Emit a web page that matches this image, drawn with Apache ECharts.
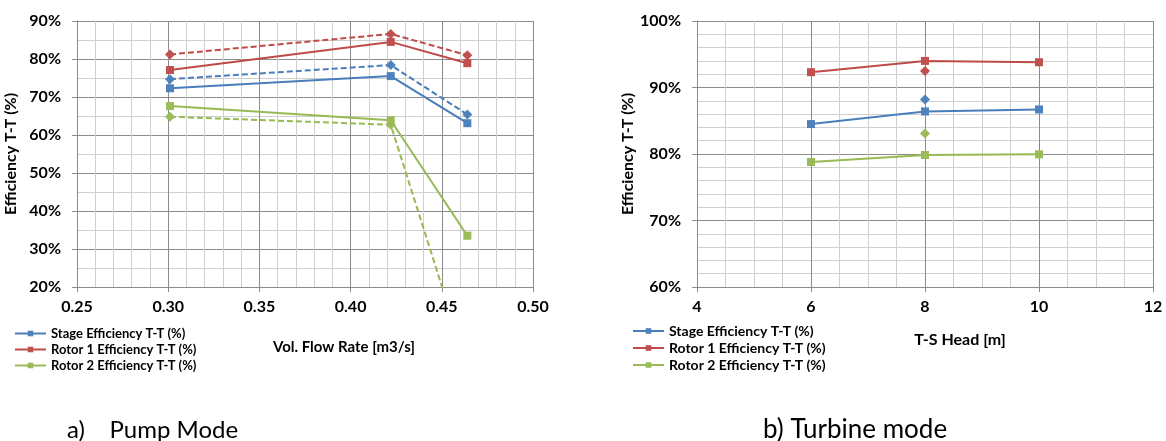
<!DOCTYPE html>
<html>
<head>
<meta charset="utf-8">
<script src="https://cdn.jsdelivr.net/npm/echarts@6/dist/echarts.min.js"></script>
<style>
html,body{margin:0;padding:0;background:#fff;}
#c{width:1166px;height:441px;}
</style>
</head>
<body>
<div id="c"></div>
<script>
// ---- Data (a) Pump mode ----
const pumpFlow = [0.301, 0.422, 0.464];
const pumpStage = [72.3, 75.5, 63.1];
const pumpStageDash = [74.7, 78.4, 65.4];
const pumpRotor1 = [77.1, 84.5, 78.9];
const pumpRotor1Dash = [81.2, 86.6, 81.0];
const pumpRotor2 = [67.6, 63.9, 33.5];
const pumpRotor2Dash = [64.8, 62.7, -1.0];

// ---- Data (b) Turbine mode ----
const turbHead = [6, 8, 10];
const turbStage = [84.5, 86.4, 86.7];
const turbRotor1 = [92.3, 94.0, 93.8];
const turbRotor2 = [78.8, 79.85, 79.95];
const turbExtraHead = [8];
const turbStageExtra = [88.2];
const turbRotor1Extra = [92.5];
const turbRotor2Extra = [83.1];

const seriesNames = ['Stage Efficiency T-T (%)', 'Rotor 1 Efficiency T-T (%)', 'Rotor 2 Efficiency T-T (%)'];
const yTitle = 'Efficiency T-T (%)';
const xTitlePump = 'Vol. Flow Rate [m3/s]';
const xTitleTurb = 'T-S Head [m]';
const captionPump = 'a)    Pump Mode';
const captionTurb = 'b) Turbine mode';

const lineColors = ['#4A7EBB', '#BE4B48', '#98B954'];
const markColors = ['#4F81BD', '#C0504D', '#9BBB59'];
const FONT = 'Lato, "Open Sans", sans-serif';

const zip = (xs, ys) => xs.map((x, i) => [x, ys[i]]);

function solid(name, idx, gi, xs, ys) {
  return {
    name: name, type: 'line', xAxisIndex: gi, yAxisIndex: gi,
    data: zip(xs, ys), symbol: 'rect', symbolSize: 8,
    itemStyle: {color: markColors[idx]},
    lineStyle: {color: lineColors[idx], width: 2},
    z: 3, animation: false, clip: true
  };
}
function dashed(name, idx, gi, xs, ys, showLine) {
  return {
    name: name, type: 'line', xAxisIndex: gi, yAxisIndex: gi,
    data: zip(xs, ys), symbol: 'diamond', symbolSize: 10,
    itemStyle: {color: markColors[idx]},
    lineStyle: {color: lineColors[idx], width: 2, type: [6, 3], opacity: showLine ? 1 : 0},
    z: 3, animation: false, clip: true
  };
}

const axisLbl = {color: '#000', fontFamily: FONT, fontWeight: 'bold', fontSize: 16};
const majorSplit = {show: true, lineStyle: {color: '#8c8c8c', width: 1}};
const minorSplit = {show: true, lineStyle: {color: '#cfcfcf', width: 1}};
const axLine = {show: true, onZero: false, lineStyle: {color: '#8c8c8c', width: 1}};
const axTick = {show: true, length: 5, lineStyle: {color: '#8c8c8c'}};

function xAxis(gi, min, max, interval, minorN, fmt) {
  return {
    type: 'value', gridIndex: gi, min: min, max: max, interval: interval,
    axisLine: axLine, axisTick: axTick,
    axisLabel: Object.assign({margin: 12, formatter: fmt}, axisLbl),
    splitLine: majorSplit, minorTick: {show: false, splitNumber: minorN},
    minorSplitLine: minorSplit
  };
}
function yAxis(gi, min, max, minorN) {
  return {
    type: 'value', gridIndex: gi, min: min, max: max, interval: 10,
    axisLine: axLine, axisTick: axTick,
    axisLabel: Object.assign({margin: 16, formatter: '{value}%'}, axisLbl),
    splitLine: majorSplit, minorTick: {show: false, splitNumber: minorN},
    minorSplitLine: minorSplit,
    name: yTitle, nameLocation: 'middle', nameGap: 58,
    nameTextStyle: {color: '#000', fontFamily: FONT, fontWeight: 'bold', fontSize: 16}
  };
}

function legend(left, top, fs, gap) {
  return {
    orient: 'vertical', left: left, top: top, data: seriesNames,
    itemWidth: 31, itemHeight: 7, itemGap: gap, padding: 0,
    textStyle: {color: '#000', fontFamily: FONT, fontWeight: 'bold', fontSize: fs},
    selectedMode: false
  };
}

const chart = echarts.init(document.getElementById('c'), null, {renderer: 'canvas'});
chart.setOption({
  backgroundColor: '#fff',
  animation: false,
  grid: [
    {left: 77, top: 21, width: 456, height: 266},
    {left: 697, top: 21, width: 456, height: 266}
  ],
  xAxis: [
    xAxis(0, 0.25, 0.5, 0.05, 5, v => v.toFixed(2)),
    xAxis(1, 4, 12, 2, 4, '{value}')
  ],
  yAxis: [yAxis(0, 20, 90, 2), yAxis(1, 60, 100, 5)],
  legend: [legend(14, 327, 13, 3), legend(632, 324, 14, 3)],
  series: [
    solid(seriesNames[0], 0, 0, pumpFlow, pumpStage),
    solid(seriesNames[1], 1, 0, pumpFlow, pumpRotor1),
    solid(seriesNames[2], 2, 0, pumpFlow, pumpRotor2),
    dashed('Stage (dashed)', 0, 0, pumpFlow, pumpStageDash, true),
    dashed('Rotor 1 (dashed)', 1, 0, pumpFlow, pumpRotor1Dash, true),
    dashed('Rotor 2 (dashed)', 2, 0, pumpFlow, pumpRotor2Dash, true),
    solid(seriesNames[0], 0, 1, turbHead, turbStage),
    solid(seriesNames[1], 1, 1, turbHead, turbRotor1),
    solid(seriesNames[2], 2, 1, turbHead, turbRotor2),
    dashed('Stage (point)', 0, 1, turbExtraHead, turbStageExtra, false),
    dashed('Rotor 1 (point)', 1, 1, turbExtraHead, turbRotor1Extra, false),
    dashed('Rotor 2 (point)', 2, 1, turbExtraHead, turbRotor2Extra, false)
  ],
  graphic: [
    {type: 'text', x: 344, y: 347, style: {text: xTitlePump, fill: '#000', font: 'bold 15px ' + FONT, align: 'center', verticalAlign: 'middle'}},
    {type: 'text', x: 960, y: 340, style: {text: xTitleTurb, fill: '#000', font: 'bold 16px ' + FONT, align: 'center', verticalAlign: 'middle'}},
    {type: 'text', x: 67, y: 430, style: {text: captionPump, fill: '#000', font: '24px ' + FONT, align: 'left', verticalAlign: 'middle'}},
    {type: 'text', x: 763, y: 430, style: {text: captionTurb, fill: '#000', font: '26px ' + FONT, align: 'left', verticalAlign: 'middle'}}
  ]
});
</script>
</body>
</html>
